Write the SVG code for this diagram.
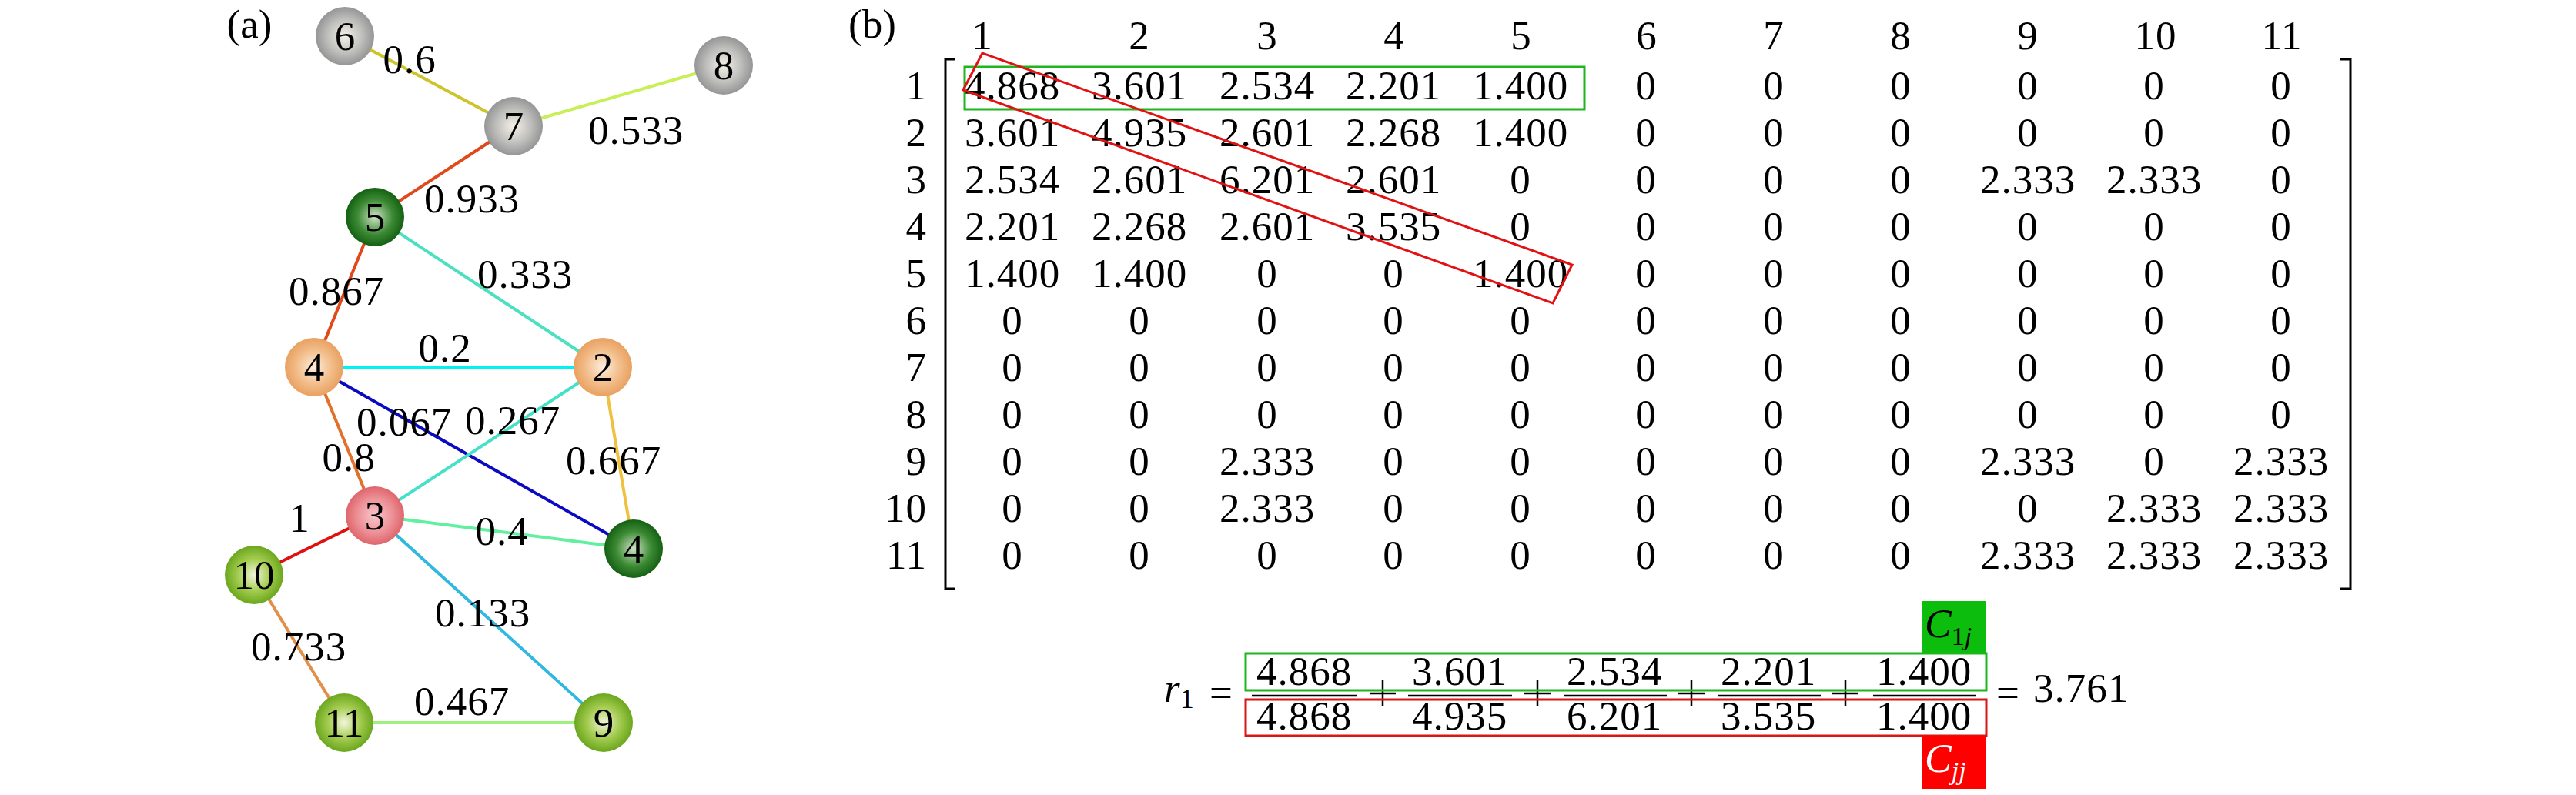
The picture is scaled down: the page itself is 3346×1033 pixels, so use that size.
<svg xmlns="http://www.w3.org/2000/svg" width="3346" height="1033" viewBox="0 0 3346 1033">
<style>
text{font-family:"Liberation Serif","DejaVu Serif",serif;fill:#000}
.t{font-size:53px;text-anchor:middle;letter-spacing:1px}
.n{font-size:53px;text-anchor:middle}
.lab{font-size:53px;letter-spacing:1px}
.edge{stroke-width:4;stroke-linecap:round;fill:none}
.rl{font-size:53px;text-anchor:end;letter-spacing:1px}
</style>
<defs>
<radialGradient id="gGray" cx="50%" cy="50%" r="55%"><stop offset="0" stop-color="#f4f1e6"/><stop offset="0.55" stop-color="#bdbdbb"/><stop offset="1" stop-color="#8a8b8b"/></radialGradient>
<radialGradient id="gDG" cx="50%" cy="50%" r="55%"><stop offset="0" stop-color="#cfe2c6"/><stop offset="0.55" stop-color="#3c8a34"/><stop offset="1" stop-color="#0b560b"/></radialGradient>
<radialGradient id="gOr" cx="50%" cy="50%" r="55%"><stop offset="0" stop-color="#fdeedd"/><stop offset="0.55" stop-color="#f2bc88"/><stop offset="1" stop-color="#e69a58"/></radialGradient>
<radialGradient id="gPk" cx="50%" cy="50%" r="55%"><stop offset="0" stop-color="#f8c8cc"/><stop offset="0.55" stop-color="#ec9096"/><stop offset="1" stop-color="#dc5a62"/></radialGradient>
<radialGradient id="gYG" cx="50%" cy="50%" r="55%"><stop offset="0" stop-color="#f2f6dc"/><stop offset="0.5" stop-color="#a4cc50"/><stop offset="1" stop-color="#5e9e12"/></radialGradient>
</defs>
<rect width="3346" height="1033" fill="#fff"/>

<text x="324" y="49" class="n">(a)</text>
<text x="1133" y="49" class="n">(b)</text>

<g id="connectors">
<line class="edge" x1="448" y1="47" x2="667" y2="164" stroke="#cbc42a"/>
<line class="edge" x1="667" y1="164" x2="940" y2="85" stroke="#c8ef55"/>
<line class="edge" x1="667" y1="164" x2="487" y2="282" stroke="#e04a1a"/>
<line class="edge" x1="487" y1="282" x2="408" y2="477" stroke="#e04a1a"/>
<line class="edge" x1="487" y1="282" x2="783" y2="477" stroke="#4de0c0"/>
<line class="edge" x1="408" y1="477" x2="783" y2="477" stroke="#00f2f2" stroke-width="5"/>
<line class="edge" x1="408" y1="477" x2="487" y2="670" stroke="#e0702a"/>
<line class="edge" x1="408" y1="477" x2="823" y2="713" stroke="#0a0ac0"/>
<line class="edge" x1="783" y1="477" x2="487" y2="670" stroke="#45e0c8"/>
<line class="edge" x1="783" y1="477" x2="823" y2="713" stroke="#f0c040"/>
<line class="edge" x1="487" y1="670" x2="330" y2="747" stroke="#e01010"/>
<line class="edge" x1="487" y1="670" x2="823" y2="713" stroke="#60f0a0"/>
<line class="edge" x1="487" y1="670" x2="784" y2="939" stroke="#30b8e0"/>
<line class="edge" x1="330" y1="747" x2="447" y2="939" stroke="#e09048"/>
<line class="edge" x1="447" y1="939" x2="784" y2="939" stroke="#a0f080"/>
</g>

<g id="edge-labels" class="lab" text-anchor="middle">
<text x="532" y="95">0.6</text>
<text x="826" y="187">0.533</text>
<text x="613" y="276">0.933</text>
<text x="682" y="374">0.333</text>
<text x="437" y="396">0.867</text>
<text x="578" y="470">0.2</text>
<text x="525" y="566">0.067</text>
<text x="666" y="564">0.267</text>
<text x="453" y="612">0.8</text>
<text x="797" y="616">0.667</text>
<text x="389" y="691">1</text>
<text x="652" y="708">0.4</text>
<text x="627" y="814">0.133</text>
<text x="388" y="858">0.733</text>
<text x="600" y="929">0.467</text>
</g>

<g id="node6"><circle cx="448" cy="47" r="38" fill="url(#gGray)"/><text class="n" x="448" y="65">6</text></g>
<g id="node7"><circle cx="667" cy="164" r="38" fill="url(#gGray)"/><text class="n" x="667" y="182">7</text></g>
<g id="node8"><circle cx="940" cy="85" r="38" fill="url(#gGray)"/><text class="n" x="940" y="103">8</text></g>
<g id="node5"><circle cx="487" cy="282" r="38" fill="url(#gDG)"/><text class="n" x="487" y="300">5</text></g>
<g id="node4a"><circle cx="408" cy="477" r="38" fill="url(#gOr)"/><text class="n" x="408" y="495">4</text></g>
<g id="node2"><circle cx="783" cy="477" r="38" fill="url(#gOr)"/><text class="n" x="783" y="495">2</text></g>
<g id="node3"><circle cx="487" cy="670" r="38" fill="url(#gPk)"/><text class="n" x="487" y="688">3</text></g>
<g id="node4b"><circle cx="823" cy="713" r="38" fill="url(#gDG)"/><text class="n" x="823" y="731">4</text></g>
<g id="node10"><circle cx="330" cy="747" r="38" fill="url(#gYG)"/><text class="n" x="330" y="765">10</text></g>
<g id="node11"><circle cx="447" cy="939" r="38" fill="url(#gYG)"/><text class="n" x="447" y="957">11</text></g>
<g id="node9"><circle cx="784" cy="939" r="38" fill="url(#gYG)"/><text class="n" x="784" y="957">9</text></g>

<g id="matrix">
<text class="t" y="64"><tspan x="1276">1</tspan><tspan x="1480">2</tspan><tspan x="1646">3</tspan><tspan x="1811">4</tspan><tspan x="1976">5</tspan><tspan x="2139">6</tspan><tspan x="2304">7</tspan><tspan x="2469">8</tspan><tspan x="2634">9</tspan><tspan x="2800">10</tspan><tspan x="2964">11</tspan></text>
<g class="rl">
<text x="1204" y="129">1</text><text x="1204" y="190">2</text><text x="1204" y="251">3</text><text x="1204" y="312">4</text><text x="1204" y="373">5</text><text x="1204" y="434">6</text><text x="1204" y="495">7</text><text x="1204" y="556">8</text><text x="1204" y="617">9</text><text x="1204" y="678">10</text><text x="1204" y="739">11</text>
</g>
<path d="M1241,77 H1228 V765 H1241 M3039,77 H3053 V765 H3039" fill="none" stroke="#000" stroke-width="3"/>
<text class="t" y="129"><tspan x="1315">4.868</tspan><tspan x="1480">3.601</tspan><tspan x="1646">2.534</tspan><tspan x="1810">2.201</tspan><tspan x="1975">1.400</tspan><tspan x="2138">0</tspan><tspan x="2304">0</tspan><tspan x="2469">0</tspan><tspan x="2634">0</tspan><tspan x="2798">0</tspan><tspan x="2963">0</tspan></text>
<text class="t" y="190"><tspan x="1315">3.601</tspan><tspan x="1480">4.935</tspan><tspan x="1646">2.601</tspan><tspan x="1810">2.268</tspan><tspan x="1975">1.400</tspan><tspan x="2138">0</tspan><tspan x="2304">0</tspan><tspan x="2469">0</tspan><tspan x="2634">0</tspan><tspan x="2798">0</tspan><tspan x="2963">0</tspan></text>
<text class="t" y="251"><tspan x="1315">2.534</tspan><tspan x="1480">2.601</tspan><tspan x="1646">6.201</tspan><tspan x="1810">2.601</tspan><tspan x="1975">0</tspan><tspan x="2138">0</tspan><tspan x="2304">0</tspan><tspan x="2469">0</tspan><tspan x="2634">2.333</tspan><tspan x="2798">2.333</tspan><tspan x="2963">0</tspan></text>
<text class="t" y="312"><tspan x="1315">2.201</tspan><tspan x="1480">2.268</tspan><tspan x="1646">2.601</tspan><tspan x="1810">3.535</tspan><tspan x="1975">0</tspan><tspan x="2138">0</tspan><tspan x="2304">0</tspan><tspan x="2469">0</tspan><tspan x="2634">0</tspan><tspan x="2798">0</tspan><tspan x="2963">0</tspan></text>
<text class="t" y="373"><tspan x="1315">1.400</tspan><tspan x="1480">1.400</tspan><tspan x="1646">0</tspan><tspan x="1810">0</tspan><tspan x="1975">1.400</tspan><tspan x="2138">0</tspan><tspan x="2304">0</tspan><tspan x="2469">0</tspan><tspan x="2634">0</tspan><tspan x="2798">0</tspan><tspan x="2963">0</tspan></text>
<text class="t" y="434"><tspan x="1315">0</tspan><tspan x="1480">0</tspan><tspan x="1646">0</tspan><tspan x="1810">0</tspan><tspan x="1975">0</tspan><tspan x="2138">0</tspan><tspan x="2304">0</tspan><tspan x="2469">0</tspan><tspan x="2634">0</tspan><tspan x="2798">0</tspan><tspan x="2963">0</tspan></text>
<text class="t" y="495"><tspan x="1315">0</tspan><tspan x="1480">0</tspan><tspan x="1646">0</tspan><tspan x="1810">0</tspan><tspan x="1975">0</tspan><tspan x="2138">0</tspan><tspan x="2304">0</tspan><tspan x="2469">0</tspan><tspan x="2634">0</tspan><tspan x="2798">0</tspan><tspan x="2963">0</tspan></text>
<text class="t" y="556"><tspan x="1315">0</tspan><tspan x="1480">0</tspan><tspan x="1646">0</tspan><tspan x="1810">0</tspan><tspan x="1975">0</tspan><tspan x="2138">0</tspan><tspan x="2304">0</tspan><tspan x="2469">0</tspan><tspan x="2634">0</tspan><tspan x="2798">0</tspan><tspan x="2963">0</tspan></text>
<text class="t" y="617"><tspan x="1315">0</tspan><tspan x="1480">0</tspan><tspan x="1646">2.333</tspan><tspan x="1810">0</tspan><tspan x="1975">0</tspan><tspan x="2138">0</tspan><tspan x="2304">0</tspan><tspan x="2469">0</tspan><tspan x="2634">2.333</tspan><tspan x="2798">0</tspan><tspan x="2963">2.333</tspan></text>
<text class="t" y="678"><tspan x="1315">0</tspan><tspan x="1480">0</tspan><tspan x="1646">2.333</tspan><tspan x="1810">0</tspan><tspan x="1975">0</tspan><tspan x="2138">0</tspan><tspan x="2304">0</tspan><tspan x="2469">0</tspan><tspan x="2634">0</tspan><tspan x="2798">2.333</tspan><tspan x="2963">2.333</tspan></text>
<text class="t" y="739"><tspan x="1315">0</tspan><tspan x="1480">0</tspan><tspan x="1646">0</tspan><tspan x="1810">0</tspan><tspan x="1975">0</tspan><tspan x="2138">0</tspan><tspan x="2304">0</tspan><tspan x="2469">0</tspan><tspan x="2634">2.333</tspan><tspan x="2798">2.333</tspan><tspan x="2963">2.333</tspan></text>
<rect x="1253" y="87" width="805" height="55" fill="none" stroke="#1fb51f" stroke-width="3"/>
<polygon points="1276,69 1251,117 2017,394 2042,344" fill="none" stroke="#e21212" stroke-width="3"/>
</g>

<g id="formula">
<text font-size="53" y="912"><tspan x="1512" font-style="italic">r</tspan><tspan font-size="36" dy="8">1</tspan></text>
<text class="n" x="1586" y="918">=</text>
<g class="t">
<text x="1694" y="890">4.868</text><text x="1896" y="890">3.601</text><text x="2097" y="890">2.534</text><text x="2297" y="890">2.201</text><text x="2499" y="890">1.400</text>
<text x="1694" y="948">4.868</text><text x="1896" y="948">4.935</text><text x="2097" y="948">6.201</text><text x="2297" y="948">3.535</text><text x="2499" y="948">1.400</text>
</g>
<path d="M1626,904 H1762 M1829,904 H1964 M2031,904 H2165 M2232,904 H2365 M2433,904 H2567" stroke="#000" stroke-width="2.5"/>
<path d="M1779,901 H1813 M1796,884 V918 M1980,901 H2014 M1997,884 V918 M2180,901 H2214 M2197,884 V918 M2380,901 H2414 M2397,884 V918" stroke="#000" stroke-width="2.5"/>
<text class="n" x="2608" y="918">=</text>
<text class="t" x="2703" y="912">3.761</text>
<rect x="1618" y="849" width="962" height="48" fill="none" stroke="#1fb51f" stroke-width="3"/>
<rect x="1618" y="909" width="962" height="47" fill="none" stroke="#d91515" stroke-width="3"/>
<rect x="2497" y="781" width="83" height="68" fill="#0dbd0d"/>
<text x="2500" y="828" font-size="52"><tspan font-style="italic">C</tspan><tspan font-size="34" dy="10">1</tspan><tspan font-size="34" font-style="italic">j</tspan></text>
<rect x="2497" y="956" width="83" height="69" fill="#ff0000"/>
<text x="2500" y="1003" font-size="52" style="fill:#fff"><tspan font-style="italic">C</tspan><tspan font-size="34" dy="10" font-style="italic">jj</tspan></text>
</g>
</svg>
